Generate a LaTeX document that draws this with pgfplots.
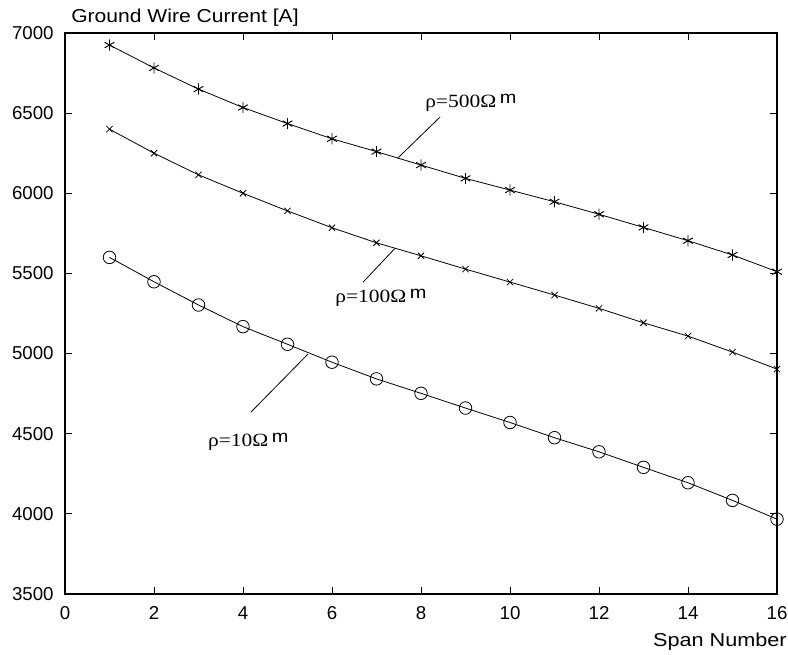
\documentclass[border=0pt]{standalone}
\usepackage{fontspec}
\setmainfont{Liberation Sans}
\newfontfamily\serif{Liberation Serif}
\usepackage{graphicx}
\usepackage{pgfplots}
\pgfplotsset{compat=1.18}

\newcommand{\rholab}[1]{\scalebox{1.15}[1]{\serif\fontsize{14}{16}\selectfont ρ=#1Ω\,\raisebox{3pt}{\fontsize{13}{15}\rmfamily m}}}

\begin{document}
\begin{tikzpicture}[x=1pt,y=1pt]
\begin{axis}[name=ax, scale only axis, width=534pt, height=420.75pt,
  xmin=0, xmax=16, ymin=3500, ymax=7000,
  xtick={0,2,...,16}, ytick={3500,4000,...,7000},
  tick align=inside, tick pos=both, major tick length=5pt,
  axis line style={line width=0.8pt}, tick style={line width=0.6pt, black},
  /pgf/number format/assume math mode=true,
  /pgf/number format/1000 sep={},
  tick label style={font=\fontsize{14}{16}\selectfont},
  xticklabel style={yshift=-6pt}, yticklabel style={xshift=-5pt},
  clip=false]
\addplot[black, line width=0.6pt, mark=asterisk, mark size=4.2pt, mark options={line width=0.7pt}] coordinates
 {(1,6925)(2,6782)(3,6650)(4,6535)(5,6435)(6,6340)(7,6260)(8,6176)
  (9,6093)(10,6020)(11,5947)(12,5869)(13,5787)(14,5704)(15,5615)(16,5511)};
\addplot[black, line width=0.6pt, mark=x, mark size=3.3pt, mark options={line width=0.6pt}] coordinates
 {(1,6400)(2,6250)(3,6115)(4,6000)(5,5890)(6,5785)(7,5691)(8,5610)
  (9,5527)(10,5446)(11,5365)(12,5282)(13,5192)(14,5109)(15,5009)(16,4903)};
\addplot[black, line width=0.6pt, mark=o, mark size=4.7pt, mark options={line width=0.6pt}] coordinates
 {(1,5600)(2,5448)(3,5303)(4,5168)(5,5058)(6,4946)(7,4842)(8,4752)
  (9,4660)(10,4570)(11,4475)(12,4387)(13,4290)(14,4194)(15,4084)(16,3967)};
% leader lines and labels
\draw[line width=0.6pt] (axis cs:8.43,6476) -- (axis cs:7.48,6220);
\draw[line width=0.6pt] (axis cs:7.42,5658) -- (axis cs:6.70,5446);
\draw[line width=0.6pt] (axis cs:5.46,4997) -- (axis cs:4.18,4635);
\node[anchor=west, inner sep=0pt] at (axis cs:8.09,6563) {\rholab{500}};
\node[anchor=west, inner sep=0pt] at (axis cs:6.07,5346) {\rholab{100}};
\node[anchor=west, inner sep=0pt] at (axis cs:3.21,4448) {\rholab{10}};
% titles
\node[anchor=west, inner sep=0pt] at ([xshift=4.5pt, yshift=11.25pt]rel axis cs:0,1) {\scalebox{1.13}[1]{\fontsize{14}{16}\selectfont Ground Wire Current [A]}};
\node[anchor=east, inner sep=0pt] at ([xshift=7.5pt, yshift=-36pt]rel axis cs:1,0) {\scalebox{1.16}[1]{\fontsize{14}{16}\selectfont Span Number}};
\end{axis}
\pgfresetboundingbox
\path[use as bounding box] ([xshift=-48.75pt, yshift=-45.75pt]ax.south west) rectangle ([xshift=8.25pt, yshift=24.75pt]ax.north east);
\end{tikzpicture}
\end{document}
